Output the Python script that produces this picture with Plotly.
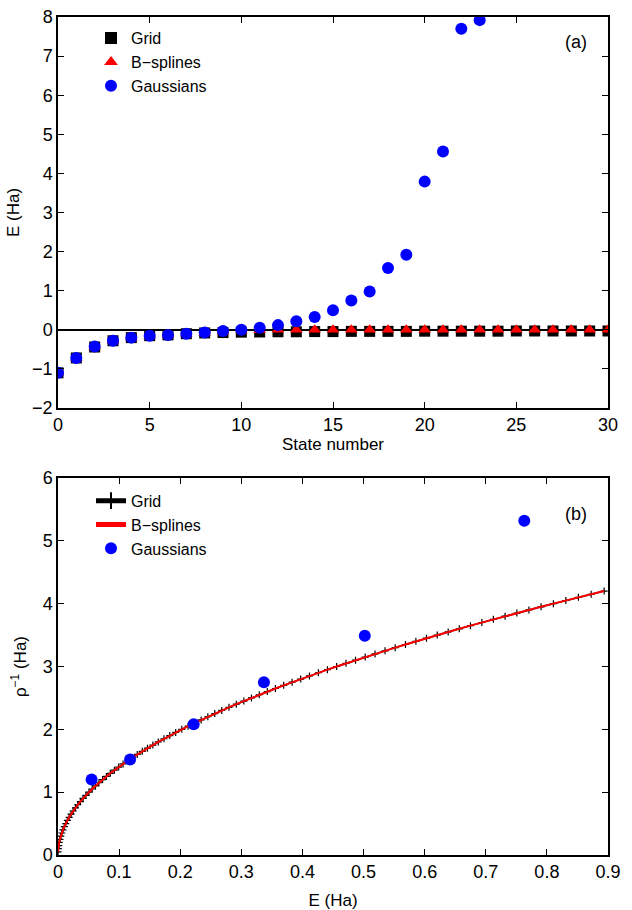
import plotly.graph_objects as go
from plotly.subplots import make_subplots

# ---------- panel (a) data ----------
state = list(range(31))
grid_E = [-1.10, -0.72, -0.44, -0.28, -0.20, -0.15, -0.13, -0.10, -0.08, -0.07,
          -0.06, -0.055, -0.05, -0.05, -0.045, -0.045, -0.04, -0.04, -0.04, -0.04,
          -0.035, -0.035, -0.035, -0.035, -0.035, -0.03, -0.03, -0.03, -0.03, -0.03, -0.03]
bspl_E = [-1.10, -0.72, -0.44, -0.28, -0.20, -0.15, -0.13, -0.10, -0.08, -0.05,
          -0.02, -0.01, 0.0, 0.0, 0.0, 0.0, 0.0, 0.0, 0.0, 0.0,
          0.0, 0.0, 0.0, 0.0, 0.0, 0.0, 0.0, 0.0, 0.0, 0.0, 0.0]
gauss_state = list(range(24))
gauss_E = [-1.10, -0.72, -0.43, -0.28, -0.20, -0.15, -0.13, -0.10, -0.07, -0.03,
           0.0, 0.05, 0.12, 0.22, 0.33, 0.50, 0.75, 0.98, 1.58, 1.92,
           3.79, 4.56, 7.70, 7.92]

# ---------- panel (b) data ----------
grid_en = [0.0001, 0.0005, 0.0011, 0.0020, 0.0032, 0.0046, 0.0062, 0.0081, 0.0103, 0.0127,
           0.0153, 0.0182, 0.0214, 0.0248, 0.0285, 0.0324, 0.0366, 0.0410, 0.0457, 0.0507,
           0.0559, 0.0613, 0.0670, 0.0730, 0.0792, 0.0856, 0.0923, 0.0993, 0.1065, 0.1140,
           0.1217, 0.1297, 0.1379, 0.1464, 0.1552, 0.1641, 0.1734, 0.1829, 0.1926, 0.2026,
           0.2129, 0.2234, 0.2342, 0.2452, 0.2565, 0.2680, 0.2798, 0.2918, 0.3041, 0.3166,
           0.3294, 0.3425, 0.3558, 0.3693, 0.3831, 0.3972, 0.4115, 0.4261, 0.4409, 0.4560,
           0.4713, 0.4869, 0.5027, 0.5188, 0.5351, 0.5517, 0.5686, 0.5856, 0.6030, 0.6206,
           0.6385, 0.6566, 0.6749, 0.6936, 0.7124, 0.7316, 0.7509, 0.7706, 0.7904, 0.8106,
           0.8310, 0.8516, 0.8725, 0.8937]
grid_rho = [0.05, 0.10, 0.15, 0.20, 0.25, 0.30, 0.35, 0.40, 0.45, 0.50,
            0.55, 0.60, 0.65, 0.70, 0.75, 0.80, 0.85, 0.90, 0.95, 1.00,
            1.05, 1.10, 1.15, 1.20, 1.25, 1.30, 1.35, 1.40, 1.45, 1.50,
            1.55, 1.60, 1.65, 1.70, 1.75, 1.80, 1.85, 1.90, 1.95, 2.00,
            2.05, 2.10, 2.15, 2.20, 2.25, 2.30, 2.35, 2.40, 2.45, 2.50,
            2.55, 2.60, 2.65, 2.70, 2.75, 2.80, 2.85, 2.90, 2.95, 3.00,
            3.05, 3.10, 3.15, 3.20, 3.25, 3.30, 3.35, 3.40, 3.45, 3.50,
            3.55, 3.60, 3.65, 3.70, 3.75, 3.80, 3.85, 3.90, 3.95, 4.00,
            4.05, 4.10, 4.15, 4.20]
bspl_en = grid_en
bspl_rho = grid_rho
gauss_en = [0.055, 0.118, 0.222, 0.337, 0.502, 0.763]
gauss_rho = [1.20, 1.52, 2.08, 2.75, 3.49, 5.32]

FONT = "Liberation Sans, Arial, sans-serif"

fig = make_subplots(rows=2, cols=1, vertical_spacing=0.0)

# panel (a)
fig.add_trace(go.Scatter(x=state, y=grid_E, mode="markers", name="Grid",
                         marker=dict(symbol="square", size=11, color="black"),
                         legend="legend"), row=1, col=1)
fig.add_trace(go.Scatter(x=state, y=bspl_E, mode="markers", name="B\u2212splines",
                         marker=dict(symbol="triangle-up", size=11, color="red"),
                         legend="legend"), row=1, col=1)
fig.add_trace(go.Scatter(x=gauss_state, y=gauss_E, mode="markers", name="Gaussians",
                         marker=dict(symbol="circle", size=12, color="blue"),
                         legend="legend"), row=1, col=1)

# panel (b)
fig.add_trace(go.Scatter(x=grid_en, y=grid_rho, mode="lines+markers", name="Grid",
                         line=dict(color="black", width=1.5),
                         marker=dict(symbol="cross-thin", size=5, color="black",
                                     line=dict(color="black", width=1.2)),
                         legend="legend2"), row=2, col=1)
fig.add_trace(go.Scatter(x=bspl_en, y=bspl_rho, mode="lines", name="B\u2212splines",
                         line=dict(color="red", width=2),
                         legend="legend2"), row=2, col=1)
fig.add_trace(go.Scatter(x=gauss_en, y=gauss_rho, mode="markers", name="Gaussians",
                         marker=dict(symbol="circle", size=12, color="blue"),
                         legend="legend2"), row=2, col=1)

axis_common = dict(showline=True, linecolor="black", linewidth=1.5, mirror="ticks",
                   ticks="inside", ticklen=6, tickwidth=1, tickcolor="black",
                   showgrid=False, automargin=False,
                   tickfont=dict(family=FONT, size=18, color="black"),
                   title_font=dict(family=FONT, size=17, color="black"))

fig.update_xaxes(**axis_common)
fig.update_yaxes(**axis_common)

fig.update_xaxes(range=[0, 30], tickvals=[0, 5, 10, 15, 20, 25, 30],
                 title_text="State number", title_standoff=0, zeroline=False,
                 domain=[0, 1], row=1, col=1)
fig.update_yaxes(range=[-2, 8], tickvals=list(range(-2, 9)),
                 title_text="E (Ha)", title_standoff=8,
                 zeroline=True, zerolinecolor="black", zerolinewidth=1.5,
                 domain=[0.5334, 1.0], row=1, col=1)
fig.update_xaxes(range=[0, 0.9], tickvals=[0, 0.1, 0.2, 0.3, 0.4, 0.5, 0.6, 0.7, 0.8, 0.9],
                 ticktext=["0", "0.1", "0.2", "0.3", "0.4", "0.5", "0.6", "0.7", "0.8", "0.9"],
                 title_text="E (Ha)", title_standoff=14, zeroline=False,
                 domain=[0, 1], row=2, col=1)
fig.update_yaxes(range=[0, 6], tickvals=[0, 1, 2, 3, 4, 5, 6],
                 title_text="\u03c1<sup>\u22121</sup> (Ha)", title_standoff=12,
                 zeroline=False, domain=[0.0, 0.4499], row=2, col=1)

legend_style = dict(font=dict(family=FONT, size=16, color="black"),
                    bgcolor="rgba(0,0,0,0)", borderwidth=0,
                    xanchor="left", yanchor="top", tracegroupgap=0,
                    itemsizing="constant")
fig.update_layout(
    legend=dict(x=0.06, y=0.995, **legend_style),
    legend2=dict(x=0.06, y=0.443, **legend_style),
)

fig.add_annotation(text="(a)", xref="x domain", yref="y domain", x=0.965, y=0.935,
                   showarrow=False, xanchor="right", yanchor="middle",
                   font=dict(family=FONT, size=18, color="black"))
fig.add_annotation(text="(b)", xref="x2 domain", yref="y2 domain", x=0.965, y=0.905,
                   showarrow=False, xanchor="right", yanchor="middle",
                   font=dict(family=FONT, size=18, color="black"))

fig.update_layout(width=632, height=910, plot_bgcolor="white", paper_bgcolor="white",
                  margin=dict(l=58, r=24, t=17, b=55), showlegend=True)

fig.write_html("out.html")
